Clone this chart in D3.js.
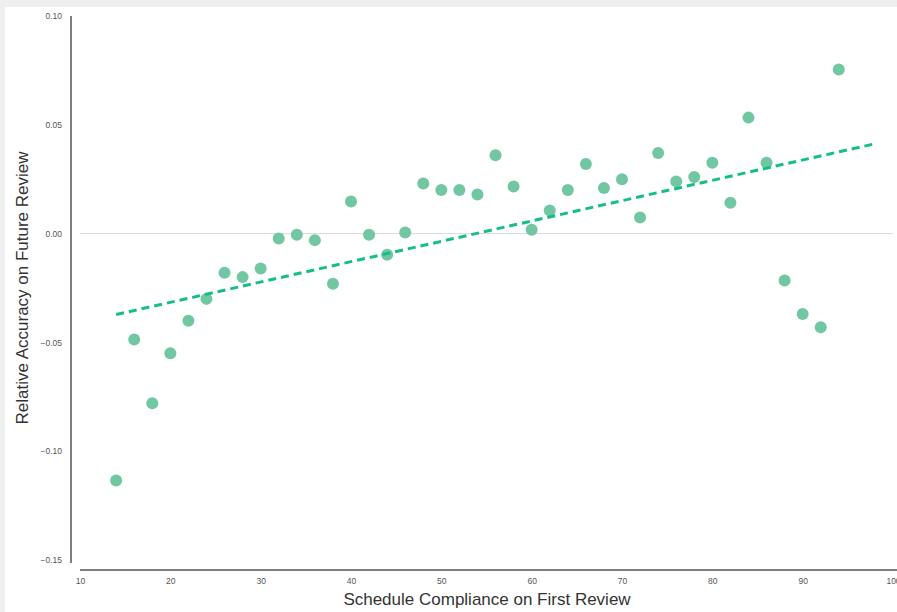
<!DOCTYPE html>
<html>
<head>
<meta charset="utf-8">
<title>Schedule compliance</title>
<script src="https://d3js.org/d3.v7.min.js"></script>
<style>
  body { margin: 0; background: #efefef; }
  svg { display: block; }
</style>
</head>
<body>
<svg id="viz" width="897" height="612"></svg>
<script>
// compliance on first review (%)
var compliance = [14, 16, 18, 20, 22, 24, 26, 28, 30, 32, 34, 36, 38, 40, 42, 44, 46, 48, 50, 52,
  54, 56, 58, 60, 62, 64, 66, 68, 70, 72, 74, 76, 78, 80, 82, 84, 86, 88, 90, 92, 94];
// relative accuracy on future review
var accuracy = [-0.1135, -0.0487, -0.078, -0.055, -0.040, -0.030, -0.018, -0.020, -0.016, -0.0023,
  -0.0005, -0.003, -0.023, 0.0147, -0.0005, -0.0097, 0.0005, 0.023, 0.020, 0.020,
  0.018, 0.036, 0.0216, 0.0018, 0.0106, 0.020, 0.032, 0.021, 0.025, 0.0074,
  0.037, 0.024, 0.026, 0.0326, 0.0142, 0.0533, 0.0326, -0.0216, -0.037, -0.043, 0.0754];
// fitted trend line end points
var trendX = [14, 98];
var trendY = [-0.0372, 0.0413];

var xTicks = [10, 20, 30, 40, 50, 60, 70, 80, 90, 100];
var yTicks = [-0.15, -0.10, -0.05, 0.00, 0.05, 0.10];

var svg = d3.select("#viz");

// white panel with the grey frame showing at top and left
svg.append("rect")
  .attr("x", 5).attr("y", 7)
  .attr("width", 892).attr("height", 605)
  .attr("fill", "#ffffff");

var x = d3.scaleLinear().domain([10, 100]).range([80, 893]);
var y = d3.scaleLinear().domain([-0.15, 0.10]).range([560, 16]);

// zero line
svg.append("line")
  .attr("x1", 80).attr("x2", 893)
  .attr("y1", y(0)).attr("y2", y(0))
  .attr("stroke", "#d9d9d9").attr("stroke-width", 1);

// y axis
var yAxis = svg.append("g")
  .attr("transform", "translate(71,0)")
  .call(d3.axisLeft(y).tickValues(yTicks).tickFormat(d3.format(".2f")).tickSize(0).tickPadding(9));
yAxis.select(".domain").remove();
yAxis.append("line")
  .attr("x1", 0).attr("x2", 0)
  .attr("y1", 16).attr("y2", 563)
  .attr("stroke", "#555").attr("stroke-width", 1.5);
yAxis.selectAll("text")
  .attr("fill", "#555")
  .style("font-family", "Liberation Sans, Arial, sans-serif")
  .style("font-size", "8.5px");

// x axis
var xAxis = svg.append("g")
  .attr("transform", "translate(0,570)")
  .call(d3.axisBottom(x).tickValues(xTicks).tickFormat(d3.format("d")).tickSize(0).tickPadding(8));
xAxis.select(".domain").remove();
xAxis.append("line")
  .attr("x1", 80).attr("x2", 897)
  .attr("y1", 0).attr("y2", 0)
  .attr("stroke", "#555").attr("stroke-width", 1.5);
xAxis.selectAll("text")
  .attr("fill", "#555")
  .style("font-family", "Liberation Sans, Arial, sans-serif")
  .style("font-size", "8.5px");

// points
var pts = compliance.map(function(c, i){ return {x: c, y: accuracy[i]}; });
svg.selectAll(".dot")
  .data(pts)
  .enter().append("circle")
  .attr("class", "dot")
  .attr("cx", function(d){ return x(d.x); })
  .attr("cy", function(d){ return y(d.y); })
  .attr("r", 6)
  .attr("fill", "#72c7a3");

// trend line
var line = d3.line()
  .x(function(d){ return x(d[0]); })
  .y(function(d){ return y(d[1]); });
svg.append("path")
  .datum(trendX.map(function(v, i){ return [v, trendY[i]]; }))
  .attr("d", line)
  .attr("fill", "none")
  .attr("stroke", "#14bf85")
  .attr("stroke-width", 3)
  .attr("stroke-dasharray", "8,5");

// axis titles
svg.append("text")
  .attr("x", 487).attr("y", 605)
  .attr("text-anchor", "middle")
  .attr("fill", "#333")
  .style("font-family", "Liberation Sans, Arial, sans-serif")
  .style("font-size", "17px")
  .text("Schedule Compliance on First Review");

svg.append("text")
  .attr("transform", "translate(28,288) rotate(-90)")
  .attr("text-anchor", "middle")
  .attr("fill", "#333")
  .style("font-family", "Liberation Sans, Arial, sans-serif")
  .style("font-size", "17px")
  .text("Relative Accuracy on Future Review");
</script>
</body>
</html>
